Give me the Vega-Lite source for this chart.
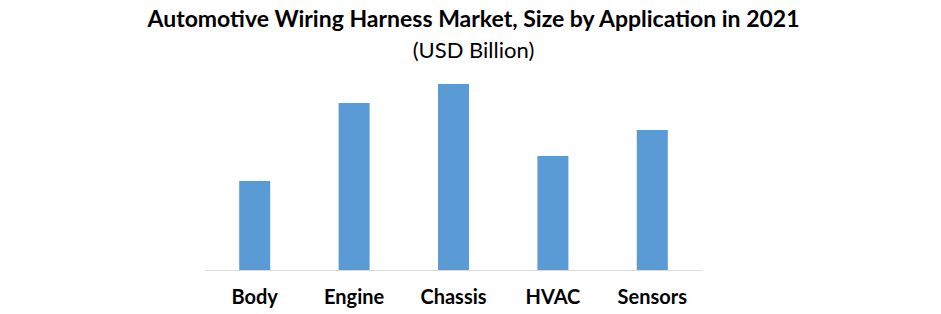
{
  "$schema": "https://vega.github.io/schema/vega-lite/v6.json",
  "width": 497,
  "height": 190,
  "autosize": {"type": "none"},
  "padding": {"left": 205, "top": 80, "right": 239, "bottom": 44},
  "background": "white",
  "title": {
    "text": "Automotive Wiring Harness Market, Size by Application  in 2021",
    "subtitle": "(USD Billion)",
    "font": "Lato",
    "fontSize": 23,
    "fontWeight": "bold",
    "color": "#000000",
    "subtitleFont": "Lato",
    "subtitleFontSize": 22,
    "subtitleColor": "#000000",
    "subtitlePadding": 9,
    "anchor": "middle",
    "dx": 20,
    "offset": 18
  },
  "data": {
    "values": [
      {"application": "Body", "value": 8.9},
      {"application": "Engine", "value": 16.7},
      {"application": "Chassis", "value": 18.6},
      {"application": "HVAC", "value": 11.4},
      {"application": "Sensors", "value": 14.0}
    ]
  },
  "mark": {"type": "bar", "color": "#5B9BD5"},
  "encoding": {
    "x": {
      "field": "application",
      "type": "nominal",
      "sort": null,
      "scale": {"paddingInner": 0.688, "paddingOuter": 0.344},
      "axis": {
        "title": null,
        "labelAngle": 0,
        "ticks": false,
        "domainColor": "#d9d9d9",
        "labelFont": "Lato",
        "labelFontSize": 20,
        "labelFontWeight": "bold",
        "labelColor": "#000000",
        "labelPadding": 17
      }
    },
    "y": {
      "field": "value",
      "type": "quantitative",
      "scale": {"domain": [0, 19]},
      "axis": null
    }
  },
  "config": {"view": {"stroke": null}}
}
